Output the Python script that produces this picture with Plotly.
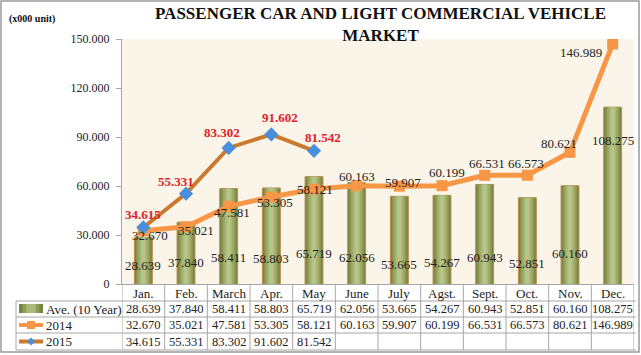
import plotly.graph_objects as go

months = ["Jan.", "Feb.", "March", "Apr.", "May", "June", "July", "Agst.", "Sept.", "Oct.", "Nov.", "Dec."]
avg_10y = [28639, 37840, 58411, 58803, 65719, 62056, 53665, 54267, 60943, 52851, 60160, 108275]
y2014 = [32670, 35021, 47581, 53305, 58121, 60163, 59907, 60199, 66531, 66573, 80621, 146989]
y2015 = [34615, 55331, 83302, 91602, 81542]
series_names = ["Ave. (10 Year)", "2014", "2015"]
y_ticks = [0, 30000, 60000, 90000, 120000, 150000]
y_tick_labels = ["0", "30.000", "60.000", "90.000", "120.000", "150.000"]

# label placement (pixel shifts)
bar_label_yshift = [19, 22, 27, 26, 31, 27, 20, 22, 27, 21, 31, 144]
l2014_shift = [(7, -5), (10, -4), (3, -6), (4, -6), (1, 0), (0, 9), (4, 4), (5, 13), (2, 12), (-1, 12), (-11, 9), (-32, -9)]
l2015_shift = [(0, 13), (-10, 12), (-7, 15), (9, 17), (9, 13)]

W, H = 641, 355
ML, MR, MT, MB = 122, 7, 39, 71
PW, PH = W - ML - MR, H - MT - MB


def px(x):
    return (x - ML) / PW


def py(y):
    return (H - MB - y) / PH


def fmt(v):
    return f"{v:,}".replace(",", ".")


SERIF = "Liberation Serif"
C2014 = "#f79646"
C2015L = "#c97a2e"
C2015M = "#4a8fdb"
GRID = "#a6a6a6"

fig = go.Figure()
xi = list(range(len(months)))

# bars with pseudo-gradient
grad = [(0.42, "#76853f"), (0.34, "#889751"), (0.26, "#9aa965"), (0.17, "#abb979"), (0.08, "#b8c589")]
for k, (w, c) in enumerate(grad):
    fig.add_trace(go.Bar(
        x=xi, y=avg_10y, width=w, marker_color=c,
        marker_line=dict(color="#c8894e" if k == 0 else c, width=1 if k == 0 else 0),
        showlegend=False, hoverinfo="skip" if k else None, name=series_names[0]))

fig.add_trace(go.Scatter(
    x=xi, y=y2014, mode="lines+markers", name=series_names[1],
    line=dict(color=C2014, width=5),
    marker=dict(symbol="square", size=11, color=C2014), showlegend=False))
fig.add_trace(go.Scatter(
    x=xi[:len(y2015)], y=y2015, mode="lines+markers", name=series_names[2],
    line=dict(color=C2015L, width=4),
    marker=dict(symbol="diamond", size=11, color=C2015M), showlegend=False))

ann = []
for i, v in enumerate(avg_10y):
    ann.append(dict(x=i, y=0, xref="x", yref="y", text=fmt(v), showarrow=False,
                    yshift=bar_label_yshift[i], yanchor="middle",
                    font=dict(family=SERIF, size=13, color="#222")))
for i, v in enumerate(y2014):
    dx, dy = l2014_shift[i]
    ann.append(dict(x=i, y=v, xref="x", yref="y", text=fmt(v), showarrow=False,
                    xshift=dx, yshift=dy, yanchor="middle",
                    font=dict(family=SERIF, size=13, color="#222")))
for i, v in enumerate(y2015):
    dx, dy = l2015_shift[i]
    ann.append(dict(x=i, y=v, xref="x", yref="y", text="<b>" + fmt(v) + "</b>", showarrow=False,
                    xshift=dx, yshift=dy, yanchor="middle",
                    font=dict(family=SERIF, size=13, color="#e3202b")))

# titles
ann.append(dict(x=px(380), y=py(25), xref="paper", yref="paper", showarrow=False,
                text="<b>PASSENGER CAR AND LIGHT COMMERCIAL VEHICLE<br>MARKET</b>",
                font=dict(family=SERIF, size=17, color="#111"), xanchor="center", yanchor="middle"))
ann.append(dict(x=px(7), y=py(19), xref="paper", yref="paper", showarrow=False,
                text="<b>(x000 unit)</b>", xanchor="left", yanchor="middle",
                font=dict(family=SERIF, size=10, color="#111")))

# data table
row_top = [285, 301, 317, 333]
row_bot = [301, 317, 333, 350]
row_mid = [(a + b) / 2 for a, b in zip(row_top, row_bot)]
shapes = []
for i, m in enumerate(months):
    ann.append(dict(x=i, y=py(row_mid[0]), xref="x", yref="paper", text=m, showarrow=False,
                    yanchor="middle", font=dict(family=SERIF, size=13, color="#222")))
for r, vals in enumerate([avg_10y, y2014, y2015]):
    for i, v in enumerate(vals):
        ann.append(dict(x=i, y=py(row_mid[r + 1]), xref="x", yref="paper", text=fmt(v), showarrow=False,
                        yanchor="middle", font=dict(family=SERIF, size=12.5, color="#222")))
    ann.append(dict(x=px(44), y=py(row_mid[r + 1]), xref="paper", yref="paper", text=series_names[r],
                    showarrow=False, xanchor="left", yanchor="middle",
                    font=dict(family=SERIF, size=13, color="#222")))

# grid lines of table
for yb in row_bot:
    shapes.append(dict(type="line", xref="paper", yref="paper", x0=px(16),
                       x1=px(636), y0=py(yb), y1=py(yb), line=dict(color=GRID, width=1)))
shapes.append(dict(type="line", xref="paper", yref="paper", x0=px(16), x1=px(16), y0=py(301), y1=py(350),
                   line=dict(color=GRID, width=1)))
for k in range(len(months) + 1):
    shapes.append(dict(type="line", xref="x", yref="paper", x0=k - 0.5, x1=k - 0.5, y0=py(285), y1=py(350),
                       line=dict(color=GRID, width=1)))

# legend keys
kx0, kx1 = 19, 43
for k, (w, c) in enumerate([(1.0, "#76853f"), (0.7, "#8e9d58"), (0.4, "#abb979")]):
    half = (kx1 - kx0) * w / 2
    cx = (kx0 + kx1) / 2
    shapes.append(dict(type="rect", xref="paper", yref="paper", x0=px(cx - half), x1=px(cx + half),
                       y0=py(304), y1=py(313), fillcolor=c, line=dict(width=0)))
shapes.append(dict(type="line", xref="paper", yref="paper", x0=px(kx0), x1=px(kx1), y0=py(row_mid[2]), y1=py(row_mid[2]),
                   line=dict(color=C2014, width=4)))
shapes.append(dict(type="rect", xref="paper", yref="paper", x0=px(27), x1=px(35), y0=py(row_mid[2] - 4), y1=py(row_mid[2] + 4),
                   fillcolor=C2014, line=dict(width=0)))
shapes.append(dict(type="line", xref="paper", yref="paper", x0=px(kx0), x1=px(kx1), y0=py(row_mid[3]), y1=py(row_mid[3]),
                   line=dict(color=C2015L, width=4)))
cy = row_mid[3]
shapes.append(dict(type="path", xref="paper", yref="paper",
                   path=f"M {px(31)} {py(cy - 4)} L {px(35)} {py(cy)} L {px(31)} {py(cy + 4)} L {px(27)} {py(cy)} Z",
                   fillcolor=C2015M, line=dict(width=0)))

# outer border
shapes.append(dict(type="rect", xref="paper", yref="paper", x0=px(1), x1=px(639), y0=py(1), y1=py(352),
                   line=dict(color="#9a9a9a", width=1.5)))

fig.update_layout(
    width=W, height=H, margin=dict(l=ML, r=MR, t=MT, b=MB),
    paper_bgcolor="white", plot_bgcolor="#faf5e8",
    barmode="overlay", showlegend=False,
    annotations=ann, shapes=shapes,
    font=dict(family=SERIF, color="#222"),
)
fig.update_xaxes(range=[-0.5, 11.5], showticklabels=False, showgrid=False, zeroline=False,
                 showline=True, linecolor=GRID, linewidth=1, ticks="")
fig.update_yaxes(range=[0, 150000], tickvals=y_ticks, ticktext=y_tick_labels, showgrid=False, zeroline=False,
                 showline=True, linecolor=GRID, linewidth=1, ticks="outside", ticklen=5, tickcolor=GRID,
                 tickfont=dict(family=SERIF, size=12, color="#222"), ticklabelstandoff=4)

fig.write_html("out.html", config={"displayModeBar": False},
               post_script="document.body.style.margin='0';document.body.style.overflow='hidden';")
